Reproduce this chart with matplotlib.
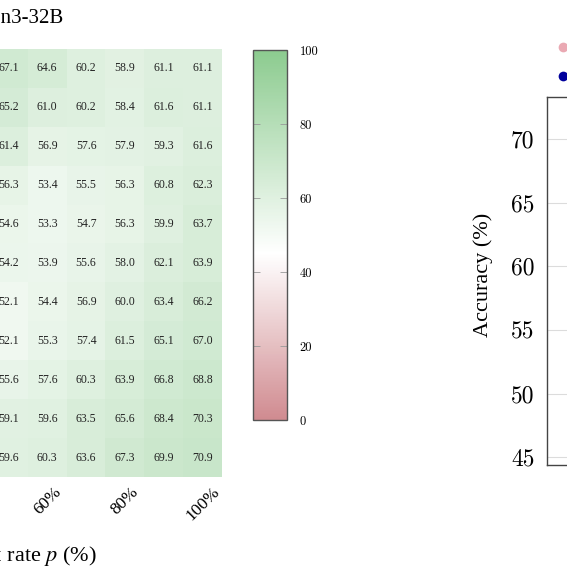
import numpy as np
import matplotlib
matplotlib.use("Agg")
import matplotlib.pyplot as plt
from matplotlib.colors import LinearSegmentedColormap
from matplotlib.lines import Line2D

# visible part of the heatmap: columns 50%..100%, 11 rows
col_labels = ["50%", "60%", "70%", "80%", "90%", "100%"]
shown_ticks = ["60%", "80%", "100%"]
acc = np.array([
    [67.1, 64.6, 60.2, 58.9, 61.1, 61.1],
    [65.2, 61.0, 60.2, 58.4, 61.6, 61.1],
    [61.4, 56.9, 57.6, 57.9, 59.3, 61.6],
    [56.3, 53.4, 55.5, 56.3, 60.8, 62.3],
    [54.6, 53.3, 54.7, 56.3, 59.9, 63.7],
    [54.2, 53.9, 55.6, 58.0, 62.1, 63.9],
    [52.1, 54.4, 56.9, 60.0, 63.4, 66.2],
    [52.1, 55.3, 57.4, 61.5, 65.1, 67.0],
    [55.6, 57.6, 60.3, 63.9, 66.8, 68.8],
    [59.1, 59.6, 63.5, 65.6, 68.4, 70.3],
    [59.6, 60.3, 63.6, 67.3, 69.9, 70.9],
])
cbar_ticks = [0, 20, 40, 60, 80, 100]
acc_ticks = [45, 50, 55, 60, 65, 70]
legend_labels = ["Qwen3-8B", "Qwen3-32B"]
legend_colors = ["#eaa9b3", "#00009c"]

W = H = 567.0
fig = plt.figure(figsize=(5.67, 5.67), dpi=100)

cmap = LinearSegmentedColormap.from_list(
    "rwg", [(0.0, "#d08b90"), (0.45, "#ffffff"), (1.0, "#8ccb8f")])

# ---- heatmap (cropped at the left) ----
ax = fig.add_axes([-11 / W, (H - 477) / H, 233 / W, 428 / H])
im = ax.imshow(acc, cmap=cmap, vmin=0, vmax=100, aspect="auto",
               interpolation="nearest")
for i in range(acc.shape[0]):
    for j in range(acc.shape[1]):
        ax.text(j, i, f"{acc[i, j]:.1f}", ha="center", va="center",
                fontsize=8.5, family="Liberation Serif", color="#222222")
ax.set_xticks([col_labels.index(t) for t in shown_ticks])
ax.set_xticklabels(shown_ticks, rotation=45, ha="center",
                   family="Liberation Serif", fontsize=12.5)
ax.tick_params(axis="x", length=0, pad=5)
ax.set_yticks([])
for s in ax.spines.values():
    s.set_visible(False)

fig.text(63 / W, (H - 23) / H, "Qwen3-32B", ha="right", va="baseline",
         fontsize=15, family="Liberation Serif")
fig.text(97 / W, (H - 561) / H, "Dropout rate $p$ (%)", ha="right",
         va="baseline", fontsize=16, family="Liberation Serif",
         math_fontfamily="stix")

# ---- colorbar ----
cax = fig.add_axes([253 / W, (H - 420) / H, 34 / W, 370 / H])
cb = fig.colorbar(im, cax=cax, ticks=cbar_ticks)
cb.outline.set_edgecolor("#555555")
cb.outline.set_linewidth(1.0)
cax.tick_params(axis="y", direction="in", left=True, right=True,
                length=5, width=0.6, color="#999999", labelsize=9, pad=9)
for t in cax.get_yticklabels():
    t.set_family("cmr10")

# ---- right chart (only its left edge is inside the picture) ----
ax2 = fig.add_axes([547 / W, (H - 465) / H, 0.6, 368 / H])
ax2.set_ylim(44.4, 73.3)
ax2.set_xlim(0, 1)
ax2.set_yticks(acc_ticks)
ax2.set_yticklabels([str(v) for v in acc_ticks], family="cmr10", fontsize=17)
ax2.set_xticks([])
ax2.grid(axis="y", color="#dcdcdc", linewidth=0.8)
ax2.tick_params(axis="y", length=0, pad=9)
for s in ax2.spines.values():
    s.set_color("#444444")
    s.set_linewidth(1.0)
ax2.set_ylabel("Accuracy (%)", family="Liberation Serif", fontsize=16)
ax2.yaxis.set_label_coords(493 / W, (H - 275) / H, transform=fig.transFigure)

handles = [Line2D([], [], ls="none", marker="o", ms=7, color=c,
                  markeredgewidth=0) for c in legend_colors]
fig.legend(handles, legend_labels, loc="upper left",
           bbox_to_anchor=(553 / W, (H - 39) / H), frameon=False,
           fontsize=14, handlelength=1.0, handletextpad=0.5,
           borderpad=0, borderaxespad=0, labelspacing=0.5)

fig.savefig("out.png", dpi=100)
